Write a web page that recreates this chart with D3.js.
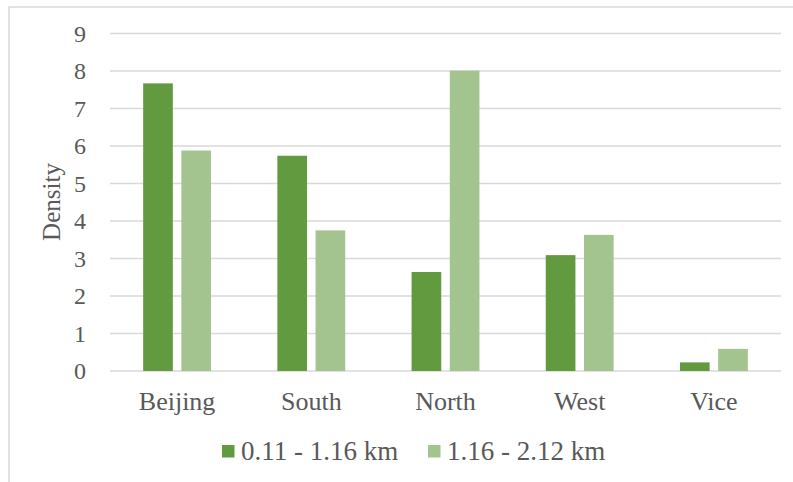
<!DOCTYPE html>
<html>
<head>
<meta charset="utf-8">
<script src="https://cdn.jsdelivr.net/npm/d3@7"></script>
<style>
  html, body { margin: 0; padding: 0; background: #fff; }
  svg { display: block; }
  text { font-family: "Liberation Serif", "Times New Roman", serif; fill: #595959; }
</style>
</head>
<body>
<svg id="chart" width="793" height="482"></svg>
<script>
// Density by district, for two distance bands
const categories = ["Beijing", "South", "North", "West", "Vice"];
const seriesNames = ["0.11 - 1.16 km", "1.16 - 2.12 km"];
const near = [7.67, 5.74, 2.64, 3.09, 0.23];
const far = [5.88, 3.75, 8.01, 3.63, 0.59];
const yTicks = [0, 1, 2, 3, 4, 5, 6, 7, 8, 9];
const colors = ["#629A3F", "#A3C48F"];

const svg = d3.select("#chart");
const W = 793, H = 482;
const plot = { left: 110, right: 781, top: 33.5, bottom: 371 };

// outer chart frame
svg.append("rect")
  .attr("x", 9).attr("y", 7)
  .attr("width", W + 20).attr("height", H + 20)
  .attr("fill", "none").attr("stroke", "#d9d9d9").attr("stroke-width", 1.5);

const x = d3.scaleBand().domain(categories).range([plot.left, plot.right]).paddingInner(0).paddingOuter(0);
const x1 = d3.scaleBand().domain(seriesNames).range([0, x.bandwidth()]).paddingInner(0.224).paddingOuter(0.868);
const y = d3.scaleLinear().domain([0, 9]).range([plot.bottom, plot.top]);

// horizontal gridlines
svg.append("g")
  .selectAll("line").data(yTicks).join("line")
  .attr("x1", plot.left).attr("x2", plot.right)
  .attr("y1", d => y(d)).attr("y2", d => y(d))
  .attr("stroke", "#d9d9d9").attr("stroke-width", 1.5);

// y tick labels
const yAxis = d3.axisLeft(y).tickValues(yTicks).tickSize(0).tickPadding(0);
const gy = svg.append("g").attr("transform", "translate(86,0)").call(yAxis);
gy.select(".domain").remove();
gy.selectAll("text")
  .attr("font-size", 24)
  .attr("font-family", "Liberation Serif, serif")
  .attr("fill", "#595959")
  .attr("dy", "0.33em");

// bars
const series = [near, far];
series.forEach((vals, si) => {
  svg.append("g").selectAll("rect").data(vals).join("rect")
    .attr("x", (d, i) => x(categories[i]) + x1(seriesNames[si]))
    .attr("width", x1.bandwidth())
    .attr("y", d => y(d))
    .attr("height", d => y(0) - y(d))
    .attr("fill", colors[si]);
});

// category labels
const xAxis = d3.axisBottom(x).tickSize(0).tickPadding(0);
const gx = svg.append("g").attr("transform", `translate(0,${plot.bottom})`).call(xAxis);
gx.select(".domain").remove();
gx.selectAll("text")
  .attr("font-size", 26)
  .attr("font-family", "Liberation Serif, serif")
  .attr("fill", "#595959")
  .attr("dy", 0)
  .attr("y", 39);

// y axis title
svg.append("text")
  .attr("transform", "translate(60,202) rotate(-90)")
  .attr("text-anchor", "middle")
  .attr("font-size", 25)
  .text("Density");

// legend
const legendX = [222, 428];
seriesNames.forEach((name, i) => {
  const g = svg.append("g").attr("transform", `translate(${legendX[i]},0)`);
  g.append("rect").attr("x", 0).attr("y", 445).attr("width", 12.5).attr("height", 12.5).attr("fill", colors[i]);
  g.append("text").attr("x", 19).attr("y", 460).attr("font-size", 27).text(name);
});
</script>
</body>
</html>
